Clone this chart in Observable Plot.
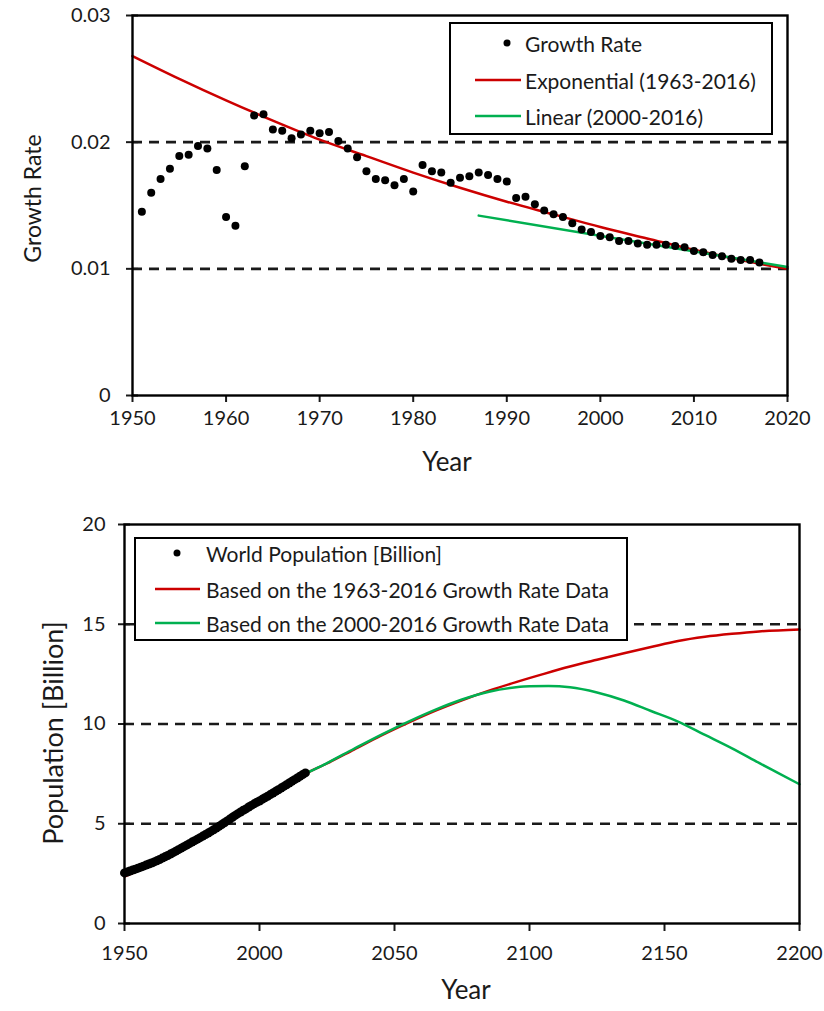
<!DOCTYPE html>
<html>
<head>
<meta charset="utf-8">
<script src="https://cdn.jsdelivr.net/npm/d3@7"></script>
<script src="https://cdn.jsdelivr.net/npm/@observablehq/plot@0.6"></script>
<style>
  body { margin: 0; background: #fff; font-family: Lato, sans-serif; }
  #wrap { position: relative; width: 824px; height: 1011px; overflow: hidden; }
  #wrap > svg { display: block; }
  .legend { position: absolute; }
</style>
</head>
<body>
<div id="wrap"></div>
<script>
// ---------- Top chart data: annual growth rate ----------
const rateYears = [1951,1952,1953,1954,1955,1956,1957,1958,1959,1960,1961,1962,1963,1964,1965,1966,1967,1968,1969,1970,
  1971,1972,1973,1974,1975,1976,1977,1978,1979,1980,1981,1982,1983,1984,1985,1986,1987,1988,1989,1990,
  1991,1992,1993,1994,1995,1996,1997,1998,1999,2000,2001,2002,2003,2004,2005,2006,2007,2008,2009,2010,
  2011,2012,2013,2014,2015,2016,2017];
const rateValues = [0.0145,0.0160,0.0171,0.0179,0.0189,0.0190,0.0197,0.0195,0.0178,0.0141,0.0134,0.0181,0.0221,0.0222,0.0210,0.0209,0.0203,0.0206,0.0209,0.0207,
  0.0208,0.0201,0.0195,0.0188,0.0177,0.0171,0.0170,0.0166,0.0171,0.0161,0.0182,0.0177,0.0176,0.0168,0.0172,0.0173,0.0176,0.0174,0.0171,0.0169,
  0.0156,0.0157,0.0151,0.0146,0.0143,0.0141,0.0136,0.0131,0.0129,0.0126,0.0125,0.0122,0.0122,0.0120,0.0119,0.0119,0.0119,0.0118,0.0117,0.0114,
  0.0113,0.0111,0.0110,0.0108,0.0107,0.0107,0.0105];
const expYears  = [1950,1955,1960,1965,1970,1975,1980,1985,1990,1995,2000,2005,2010,2015,2020];
const expValues = [0.0268,0.0250,0.0233,0.0217,0.0202,0.0189,0.0176,0.0164,0.0153,0.0143,0.0133,0.0124,0.0115,0.0107,0.0100];
const linYears  = [1987, 2020];
const linValues = [0.01420, 0.01015];
const topXTicks = [1950,1960,1970,1980,1990,2000,2010,2020];
const topYTicks = [0, 0.01, 0.02, 0.03];
const topGrid   = [0.01, 0.02];
const topLegend = ["Growth Rate", "Exponential (1963-2016)", "Linear (2000-2016)"];

// ---------- Bottom chart data: population (billion) ----------
const popYears = d3.range(1950, 2018);
const popValues = [2.536,2.584,2.630,2.677,2.724,2.773,2.823,2.874,2.927,2.980,3.035,3.088,3.145,3.210,3.277,3.340,3.409,3.479,3.552,3.626,
  3.700,3.775,3.851,3.927,4.003,4.079,4.153,4.227,4.303,4.380,4.458,4.536,4.617,4.701,4.785,4.871,4.959,5.049,5.141,5.234,
  5.327,5.418,5.505,5.591,5.675,5.744,5.838,5.918,5.998,6.078,6.143,6.222,6.301,6.381,6.461,6.542,6.624,6.706,6.789,6.873,
  6.957,7.041,7.126,7.211,7.296,7.380,7.464,7.548];
const redYears  = [1950,1960,1970,1980,1990,2000,2010,2017,2025,2035,2045,2055,2065,2075,2085,2095,2105,2115,2125,2135,2145,2155,2165,2175,2185,2200];
const redValues = [2.35,2.95,3.65,4.44,5.30,6.14,6.95,7.50,8.02,8.72,9.42,10.06,10.66,11.19,11.67,12.10,12.50,12.88,13.22,13.55,13.86,14.16,14.37,14.52,14.64,14.74];
const greenYears  = [1950,1960,1975,1990,2000,2010,2017,2025,2035,2045,2055,2065,2075,2085,2095,2100,2107,2115,2125,2135,2145,2155,2165,2175,2185,2192,2200];
const greenValues = [2.55,3.08,4.16,5.34,6.15,6.96,7.50,8.04,8.76,9.46,10.11,10.71,11.23,11.62,11.84,11.89,11.90,11.84,11.58,11.18,10.65,10.12,9.45,8.78,8.05,7.55,6.98];
const botXTicks = [1950,2000,2050,2100,2150,2200];
const botYTicks = [0,5,10,15,20];
const botGrid   = [5,10,15];
const botLegend = ["World Population [Billion]", "Based on the 1963-2016 Growth Rate Data", "Based on the 2000-2016 Growth Rate Data"];

const RED = "#cc0000", GREEN = "#00b050";
const zip = (xs, ys) => xs.map((x, i) => ({x, y: ys[i]}));
const font = "Lato, sans-serif";
const dash = {stroke: "#1a1a1a", strokeWidth: 2.6, strokeDasharray: "10,7"};

// ---------- Top chart ----------
const topPlot = Plot.plot({
  width: 824, height: 500,
  marginLeft: 132, marginRight: 37, marginTop: 15, marginBottom: 105,
  style: {fontFamily: font, fontSize: "20px", color: "#1a1a1a", background: "white", overflow: "visible"},
  x: {domain: [1950, 2020]},
  y: {domain: [0, 0.03]},
  marks: [
    Plot.ruleY(topGrid, dash),
    Plot.line(zip(expYears, expValues), {x: "x", y: "y", stroke: RED, strokeWidth: 2.5, curve: "monotone-x"}),
    Plot.line(zip(linYears, linValues), {x: "x", y: "y", stroke: GREEN, strokeWidth: 2.5}),
    Plot.dot(zip(rateYears, rateValues), {x: "x", y: "y", r: 4, fill: "#000", stroke: null}),
    Plot.axisX({ticks: topXTicks, tickSize: 7, tickPadding: 8, tickFormat: d => String(d), label: null, strokeWidth: 2}),
    Plot.axisY({ticks: topYTicks, tickSize: 6, tickPadding: 16, tickFormat: d => d === 0 ? "0" : d.toFixed(2), label: null, strokeWidth: 2}),
    Plot.axisY({ticks: topYTicks, tickSize: -6, tickFormat: () => "", label: null, strokeWidth: 2}),
    Plot.frame({stroke: "#000", strokeWidth: 2.4}),
    Plot.text(["Year"], {text: d => d, frameAnchor: "bottom", textAnchor: "middle", dy: 75, dx: -13, fontSize: 26}),
    Plot.text(["Growth Rate"], {text: d => d, frameAnchor: "left", textAnchor: "middle", dx: -99, dy: -7, rotate: -90, fontSize: 23})
  ]
});

// ---------- Bottom chart ----------
const botPlot = Plot.plot({
  width: 824, height: 511,
  marginLeft: 124, marginRight: 25, marginTop: 24, marginBottom: 88,
  style: {fontFamily: font, fontSize: "20px", color: "#1a1a1a", background: "white", overflow: "visible"},
  x: {domain: [1950, 2200]},
  y: {domain: [0, 20]},
  marks: [
    Plot.ruleY(botGrid, dash),
    Plot.line(zip(redYears, redValues), {x: "x", y: "y", stroke: RED, strokeWidth: 2.5, curve: "monotone-x"}),
    Plot.line(zip(greenYears, greenValues), {x: "x", y: "y", stroke: GREEN, strokeWidth: 2.5, curve: "monotone-x"}),
    Plot.dot(zip(popYears, popValues), {x: "x", y: "y", r: 4.5, fill: "#000", stroke: null}),
    Plot.axisX({ticks: botXTicks, tickSize: 8, tickPadding: 14, tickFormat: d => String(d), label: null, strokeWidth: 2}),
    Plot.axisY({ticks: botYTicks, tickSize: 6, tickPadding: 13, tickFormat: d => String(d), label: null, strokeWidth: 2}),
    Plot.axisY({ticks: botYTicks, tickSize: -6, tickFormat: () => "", label: null, strokeWidth: 2}),
    Plot.frame({stroke: "#000", strokeWidth: 2.4}),
    Plot.text(["Year"], {text: d => d, frameAnchor: "bottom", textAnchor: "middle", dy: 75, dx: 4, fontSize: 26}),
    Plot.text(["Population [Billion]"], {text: d => d, frameAnchor: "left", textAnchor: "middle", dx: -70, dy: 9, rotate: -90, fontSize: 27})
  ]
});

const wrap = document.getElementById("wrap");
wrap.appendChild(topPlot);
wrap.appendChild(botPlot);

// ---------- Legends (overlaid boxes) ----------
function legend(labels, opts) {
  const ns = "http://www.w3.org/2000/svg";
  const svg = document.createElementNS(ns, "svg");
  svg.setAttribute("class", "legend");
  svg.setAttribute("width", opts.w);
  svg.setAttribute("height", opts.h);
  svg.style.left = opts.left + "px";
  svg.style.top = opts.top + "px";
  const el = (name, attrs) => {
    const e = document.createElementNS(ns, name);
    for (const k in attrs) e.setAttribute(k, attrs[k]);
    svg.appendChild(e);
    return e;
  };
  el("rect", {x: 1, y: 1, width: opts.w - 2, height: opts.h - 2, fill: "#fff", stroke: "#000", "stroke-width": 2});
  const kinds = [{type: "dot"}, {type: "line", color: RED}, {type: "line", color: GREEN}];
  labels.forEach((lab, i) => {
    const y = opts.rows[i];
    const k = kinds[i];
    if (k.type === "dot") el("circle", {cx: opts.dotX, cy: y, r: 3.5, fill: "#000"});
    else el("line", {x1: opts.lineX[0], x2: opts.lineX[1], y1: y, y2: y, stroke: k.color, "stroke-width": 2.5});
    const t = el("text", {x: opts.textX, y: y, "dominant-baseline": "central", "font-family": font, "font-size": opts.fs, fill: "#1a1a1a"});
    t.textContent = lab;
  });
  wrap.appendChild(svg);
}
legend(topLegend, {left: 449, top: 22, w: 324, h: 113, rows: [21, 58, 94], dotX: 58, lineX: [26, 72], textX: 76, fs: 21});
legend(botLegend, {left: 134, top: 537, w: 494, h: 104, rows: [16, 52, 86], dotX: 43, lineX: [21, 66], textX: 72, fs: 21});
</script>
</body>
</html>
